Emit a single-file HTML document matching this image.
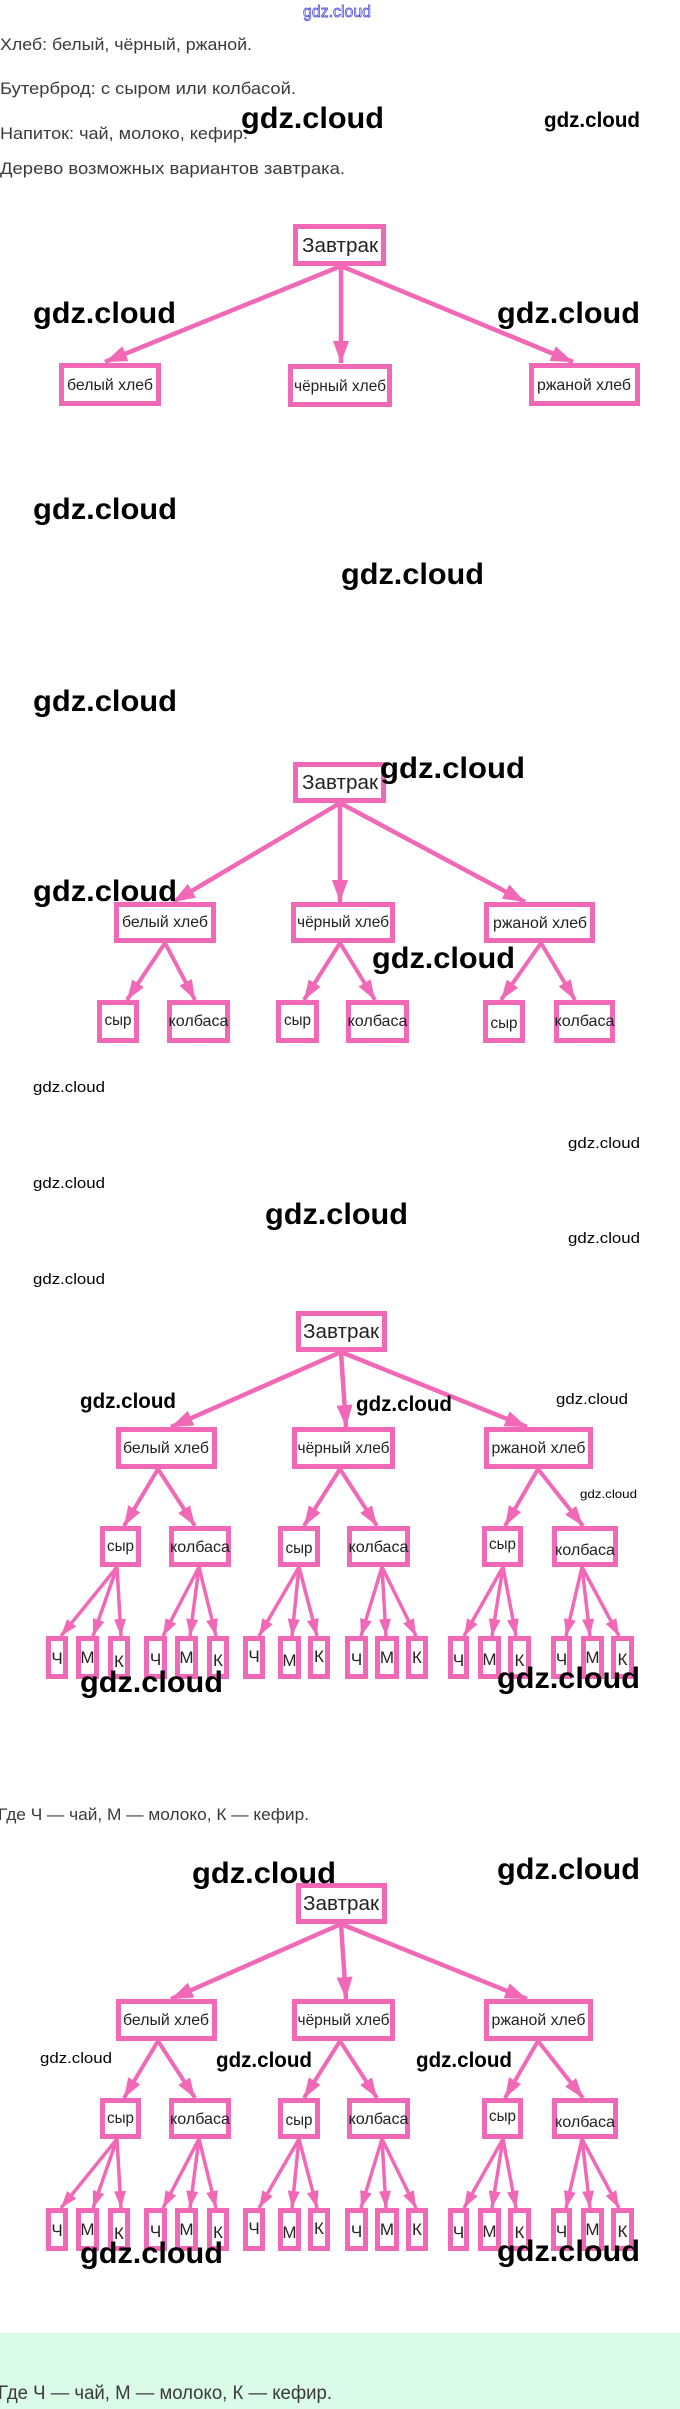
<!DOCTYPE html>
<html><head><meta charset="utf-8"><style>
html,body{margin:0;padding:0;background:#fff;width:680px;height:2409px;overflow:hidden}
svg{display:block}
text{font-family:"Liberation Sans",Arial,sans-serif}
.t{fill:#3a3a3a;font-size:17px}
.b{fill:#fff;stroke:#f068b6;stroke-width:5}
.lb{fill:#222;font-size:16px;text-anchor:middle}
.rt{fill:#222;font-size:20px;text-anchor:middle}
.lf{fill:#222;font-size:17px;text-anchor:middle}
.a1{stroke:#f068b6;stroke-width:4.5;fill:none;marker-end:url(#m1)}
.a2{stroke:#f068b6;stroke-width:4;fill:none;marker-end:url(#m2)}
.a3{stroke:#f068b6;stroke-width:3.5;fill:none;marker-end:url(#m3)}
.wb{fill:#000;font-size:30px;font-weight:bold}
.wm{fill:#000;font-size:21px;font-weight:bold}
.ws{fill:#000;font-size:15px}
.wt{fill:#000;font-size:12px}
</style></head><body>
<svg width="680" height="2409" viewBox="0 0 680 2409" xmlns="http://www.w3.org/2000/svg">
<defs>
<marker id="m1" markerUnits="userSpaceOnUse" markerWidth="24" markerHeight="18" refX="22" refY="8" orient="auto"><path d="M0,0 L22,8 L0,16 z" fill="#f068b6"/></marker>
<marker id="m2" markerUnits="userSpaceOnUse" markerWidth="22" markerHeight="16" refX="20" refY="7" orient="auto"><path d="M0,0 L20,7 L0,14 z" fill="#f068b6"/></marker>
<marker id="m3" markerUnits="userSpaceOnUse" markerWidth="19" markerHeight="14" refX="17" refY="6" orient="auto"><path d="M0,0 L17,6 L0,12 z" fill="#f068b6"/></marker>
</defs>
<rect x="0" y="0" width="680" height="2409" fill="#fff"/>
<rect x="0" y="2333" width="680" height="76" fill="#dafbe8"/>

<!-- top blue watermark -->
<text x="303" y="17" font-size="17" fill="#eef" stroke="#3a3ad0" stroke-width="0.7" textLength="68" lengthAdjust="spacingAndGlyphs">gdz.cloud</text>

<!-- intro text -->
<text class="t" x="0" y="50" textLength="252" lengthAdjust="spacingAndGlyphs">Хлеб: белый, чёрный, ржаной.</text>
<text class="t" x="0" y="94" textLength="296" lengthAdjust="spacingAndGlyphs">Бутерброд: с сыром или колбасой.</text>
<text class="t" x="0" y="139" textLength="248" lengthAdjust="spacingAndGlyphs">Напиток: чай, молоко, кефир.</text>
<text class="t" x="0" y="174" textLength="345" lengthAdjust="spacingAndGlyphs">Дерево возможных вариантов завтрака.</text>

<!-- TREE 1 -->
<line class="a1" x1="341" y1="266" x2="105" y2="362"/>
<line class="a1" x1="341" y1="266" x2="341" y2="363"/>
<line class="a1" x1="341" y1="266" x2="573" y2="362"/>
<rect class="b" x="295.5" y="226.5" width="88" height="37"/>
<text class="rt" x="340" y="252" textLength="76" lengthAdjust="spacingAndGlyphs">Завтрак</text>
<rect class="b" x="61.5" y="365.5" width="97" height="38"/>
<text class="lb" x="110" y="390" textLength="86" lengthAdjust="spacingAndGlyphs">белый хлеб</text>
<rect class="b" x="290.5" y="366.5" width="99" height="38"/>
<text class="lb" x="340" y="391" textLength="92" lengthAdjust="spacingAndGlyphs">чёрный хлеб</text>
<rect class="b" x="531.5" y="365.5" width="106" height="38"/>
<text class="lb" x="584" y="390" textLength="94" lengthAdjust="spacingAndGlyphs">ржаной хлеб</text>

<!-- TREE 2 -->
<line class="a1" x1="340" y1="803" x2="173" y2="902"/>
<line class="a1" x1="340" y1="803" x2="340" y2="902"/>
<line class="a1" x1="340" y1="803" x2="525" y2="902"/>
<line class="a2" x1="165" y1="943" x2="127" y2="1000"/>
<line class="a2" x1="165" y1="943" x2="195" y2="1000"/>
<line class="a2" x1="340" y1="943" x2="304" y2="1000"/>
<line class="a2" x1="340" y1="943" x2="375" y2="1000"/>
<line class="a2" x1="541" y1="943" x2="501" y2="1000"/>
<line class="a2" x1="541" y1="943" x2="575" y2="1000"/>
<rect class="b" x="295.5" y="764.5" width="88" height="36"/>
<text class="rt" x="340" y="789" textLength="76" lengthAdjust="spacingAndGlyphs">Завтрак</text>
<rect class="b" x="116.5" y="904.5" width="97" height="36"/>
<text class="lb" x="165" y="927" textLength="86" lengthAdjust="spacingAndGlyphs">белый хлеб</text>
<rect class="b" x="293.5" y="904.5" width="99" height="36"/>
<text class="lb" x="343" y="927" textLength="92" lengthAdjust="spacingAndGlyphs">чёрный хлеб</text>
<rect class="b" x="486.5" y="904.5" width="106" height="36"/>
<text class="lb" x="540" y="928" textLength="94" lengthAdjust="spacingAndGlyphs">ржаной хлеб</text>
<rect class="b" x="99.5" y="1002.5" width="37" height="38"/>
<text class="lb" x="118" y="1025" textLength="27" lengthAdjust="spacingAndGlyphs">сыр</text>
<rect class="b" x="169.5" y="1002.5" width="58" height="38"/>
<text class="lb" x="198.5" y="1026" textLength="60" lengthAdjust="spacingAndGlyphs">колбаса</text>
<rect class="b" x="278.5" y="1002.5" width="38" height="38"/>
<text class="lb" x="297.5" y="1025" textLength="27" lengthAdjust="spacingAndGlyphs">сыр</text>
<rect class="b" x="348.5" y="1002.5" width="58" height="38"/>
<text class="lb" x="377.5" y="1026" textLength="60" lengthAdjust="spacingAndGlyphs">колбаса</text>
<rect class="b" x="485.5" y="1002.5" width="37" height="38"/>
<text class="lb" x="504" y="1028" textLength="27" lengthAdjust="spacingAndGlyphs">сыр</text>
<rect class="b" x="556.5" y="1002.5" width="56" height="38"/>
<text class="lb" x="584.5" y="1026" textLength="60" lengthAdjust="spacingAndGlyphs">колбаса</text>

<!-- TREE 3 -->
<line class="a1" x1="341" y1="1352" x2="171" y2="1427"/>
<line class="a1" x1="341" y1="1352" x2="346" y2="1427"/>
<line class="a1" x1="341" y1="1352" x2="527" y2="1427"/>
<line class="a2" x1="158" y1="1469" x2="124" y2="1526"/>
<line class="a2" x1="158" y1="1469" x2="195" y2="1526"/>
<line class="a2" x1="340" y1="1469" x2="304" y2="1526"/>
<line class="a2" x1="340" y1="1469" x2="377" y2="1526"/>
<line class="a2" x1="538" y1="1469" x2="505" y2="1526"/>
<line class="a2" x1="538" y1="1469" x2="583" y2="1526"/>
<line class="a3" x1="117" y1="1567" x2="61" y2="1636"/>
<line class="a3" x1="117" y1="1567" x2="93" y2="1636"/>
<line class="a3" x1="117" y1="1567" x2="121" y2="1636"/>
<line class="a3" x1="199" y1="1567" x2="163" y2="1636"/>
<line class="a3" x1="199" y1="1567" x2="190" y2="1636"/>
<line class="a3" x1="199" y1="1567" x2="216" y2="1636"/>
<line class="a3" x1="299" y1="1567" x2="259" y2="1636"/>
<line class="a3" x1="299" y1="1567" x2="292" y2="1636"/>
<line class="a3" x1="299" y1="1567" x2="317" y2="1636"/>
<line class="a3" x1="382" y1="1567" x2="361" y2="1636"/>
<line class="a3" x1="382" y1="1567" x2="386" y2="1636"/>
<line class="a3" x1="382" y1="1567" x2="416" y2="1636"/>
<line class="a3" x1="503" y1="1567" x2="464" y2="1636"/>
<line class="a3" x1="503" y1="1567" x2="492" y2="1636"/>
<line class="a3" x1="503" y1="1567" x2="516" y2="1636"/>
<line class="a3" x1="582" y1="1567" x2="566" y2="1636"/>
<line class="a3" x1="582" y1="1567" x2="590" y2="1636"/>
<line class="a3" x1="582" y1="1567" x2="619" y2="1636"/>
<rect class="b" x="298.5" y="1313.5" width="86" height="36"/>
<text class="rt" x="341" y="1338" textLength="76" lengthAdjust="spacingAndGlyphs">Завтрак</text>
<rect class="b" x="118.5" y="1429.5" width="96" height="37"/>
<text class="lb" x="166" y="1453" textLength="86" lengthAdjust="spacingAndGlyphs">белый хлеб</text>
<rect class="b" x="294.5" y="1429.5" width="98" height="37"/>
<text class="lb" x="343.5" y="1453" textLength="92" lengthAdjust="spacingAndGlyphs">чёрный хлеб</text>
<rect class="b" x="486.5" y="1429.5" width="104" height="37"/>
<text class="lb" x="538.5" y="1453" textLength="94" lengthAdjust="spacingAndGlyphs">ржаной хлеб</text>
<rect class="b" x="102.5" y="1528.5" width="36" height="36"/>
<text class="lb" x="120.5" y="1551" textLength="27" lengthAdjust="spacingAndGlyphs">сыр</text>
<rect class="b" x="171.5" y="1528.5" width="57" height="36"/>
<text class="lb" x="200" y="1552" textLength="60" lengthAdjust="spacingAndGlyphs">колбаса</text>
<rect class="b" x="280.5" y="1528.5" width="37" height="36"/>
<text class="lb" x="299" y="1553" textLength="27" lengthAdjust="spacingAndGlyphs">сыр</text>
<rect class="b" x="349.5" y="1528.5" width="58" height="36"/>
<text class="lb" x="378.5" y="1552" textLength="60" lengthAdjust="spacingAndGlyphs">колбаса</text>
<rect class="b" x="484.5" y="1528.5" width="36" height="36"/>
<text class="lb" x="502.5" y="1549" textLength="27" lengthAdjust="spacingAndGlyphs">сыр</text>
<rect class="b" x="554.5" y="1528.5" width="61" height="36"/>
<text class="lb" x="585" y="1555" textLength="60" lengthAdjust="spacingAndGlyphs">колбаса</text>
<rect class="b" x="48.5" y="1638.5" width="17" height="38"/><text class="lf" x="57" y="1664">Ч</text>
<rect class="b" x="78.5" y="1638.5" width="18" height="38"/><text class="lf" x="87.5" y="1663">М</text>
<rect class="b" x="110.5" y="1638.5" width="17" height="38"/><text class="lf" x="119" y="1667">К</text>
<rect class="b" x="146.5" y="1638.5" width="18" height="38"/><text class="lf" x="155.5" y="1665">Ч</text>
<rect class="b" x="177.5" y="1638.5" width="18" height="38"/><text class="lf" x="186.5" y="1663">М</text>
<rect class="b" x="209.5" y="1638.5" width="17" height="38"/><text class="lf" x="218" y="1666">К</text>
<rect class="b" x="245.5" y="1638.5" width="17" height="38"/><text class="lf" x="254" y="1662">Ч</text>
<rect class="b" x="280.5" y="1638.5" width="18" height="38"/><text class="lf" x="289.5" y="1666">М</text>
<rect class="b" x="310.5" y="1638.5" width="17" height="38"/><text class="lf" x="319" y="1662">К</text>
<rect class="b" x="347.5" y="1638.5" width="18" height="38"/><text class="lf" x="356.5" y="1665">Ч</text>
<rect class="b" x="377.5" y="1638.5" width="19" height="38"/><text class="lf" x="387" y="1663">М</text>
<rect class="b" x="408.5" y="1638.5" width="17" height="38"/><text class="lf" x="417" y="1663">К</text>
<rect class="b" x="450.5" y="1638.5" width="16" height="38"/><text class="lf" x="458.5" y="1666">Ч</text>
<rect class="b" x="480.5" y="1638.5" width="18" height="38"/><text class="lf" x="489.5" y="1665">М</text>
<rect class="b" x="510.5" y="1638.5" width="18" height="38"/><text class="lf" x="519.5" y="1666">К</text>
<rect class="b" x="553.5" y="1638.5" width="16" height="38"/><text class="lf" x="561.5" y="1665">Ч</text>
<rect class="b" x="583.5" y="1638.5" width="18" height="38"/><text class="lf" x="592.5" y="1663">М</text>
<rect class="b" x="613.5" y="1638.5" width="18" height="38"/><text class="lf" x="622.5" y="1665">К</text>

<text class="t" x="-2" y="1820" textLength="311" lengthAdjust="spacingAndGlyphs">Где Ч — чай, М — молоко, К — кефир.</text>

<!-- TREE 4 -->
<line class="a1" x1="341" y1="1924" x2="171" y2="1999"/>
<line class="a1" x1="341" y1="1924" x2="346" y2="1999"/>
<line class="a1" x1="341" y1="1924" x2="527" y2="1999"/>
<line class="a2" x1="158" y1="2041" x2="124" y2="2098"/>
<line class="a2" x1="158" y1="2041" x2="195" y2="2098"/>
<line class="a2" x1="340" y1="2041" x2="304" y2="2098"/>
<line class="a2" x1="340" y1="2041" x2="377" y2="2098"/>
<line class="a2" x1="538" y1="2041" x2="505" y2="2098"/>
<line class="a2" x1="538" y1="2041" x2="583" y2="2098"/>
<line class="a3" x1="117" y1="2139" x2="61" y2="2208"/>
<line class="a3" x1="117" y1="2139" x2="93" y2="2208"/>
<line class="a3" x1="117" y1="2139" x2="121" y2="2208"/>
<line class="a3" x1="199" y1="2139" x2="163" y2="2208"/>
<line class="a3" x1="199" y1="2139" x2="190" y2="2208"/>
<line class="a3" x1="199" y1="2139" x2="216" y2="2208"/>
<line class="a3" x1="299" y1="2139" x2="259" y2="2208"/>
<line class="a3" x1="299" y1="2139" x2="292" y2="2208"/>
<line class="a3" x1="299" y1="2139" x2="317" y2="2208"/>
<line class="a3" x1="382" y1="2139" x2="361" y2="2208"/>
<line class="a3" x1="382" y1="2139" x2="386" y2="2208"/>
<line class="a3" x1="382" y1="2139" x2="416" y2="2208"/>
<line class="a3" x1="503" y1="2139" x2="464" y2="2208"/>
<line class="a3" x1="503" y1="2139" x2="492" y2="2208"/>
<line class="a3" x1="503" y1="2139" x2="516" y2="2208"/>
<line class="a3" x1="582" y1="2139" x2="566" y2="2208"/>
<line class="a3" x1="582" y1="2139" x2="590" y2="2208"/>
<line class="a3" x1="582" y1="2139" x2="619" y2="2208"/>
<rect class="b" x="298.5" y="1885.5" width="86" height="36"/>
<text class="rt" x="341" y="1910" textLength="76" lengthAdjust="spacingAndGlyphs">Завтрак</text>
<rect class="b" x="118.5" y="2001.5" width="96" height="37"/>
<text class="lb" x="166" y="2025" textLength="86" lengthAdjust="spacingAndGlyphs">белый хлеб</text>
<rect class="b" x="294.5" y="2001.5" width="98" height="37"/>
<text class="lb" x="343.5" y="2025" textLength="92" lengthAdjust="spacingAndGlyphs">чёрный хлеб</text>
<rect class="b" x="486.5" y="2001.5" width="104" height="37"/>
<text class="lb" x="538.5" y="2025" textLength="94" lengthAdjust="spacingAndGlyphs">ржаной хлеб</text>
<rect class="b" x="102.5" y="2100.5" width="36" height="36"/>
<text class="lb" x="120.5" y="2123" textLength="27" lengthAdjust="spacingAndGlyphs">сыр</text>
<rect class="b" x="171.5" y="2100.5" width="57" height="36"/>
<text class="lb" x="200" y="2124" textLength="60" lengthAdjust="spacingAndGlyphs">колбаса</text>
<rect class="b" x="280.5" y="2100.5" width="37" height="36"/>
<text class="lb" x="299" y="2125" textLength="27" lengthAdjust="spacingAndGlyphs">сыр</text>
<rect class="b" x="349.5" y="2100.5" width="58" height="36"/>
<text class="lb" x="378.5" y="2124" textLength="60" lengthAdjust="spacingAndGlyphs">колбаса</text>
<rect class="b" x="484.5" y="2100.5" width="36" height="36"/>
<text class="lb" x="502.5" y="2121" textLength="27" lengthAdjust="spacingAndGlyphs">сыр</text>
<rect class="b" x="554.5" y="2100.5" width="61" height="36"/>
<text class="lb" x="585" y="2127" textLength="60" lengthAdjust="spacingAndGlyphs">колбаса</text>
<rect class="b" x="48.5" y="2210.5" width="17" height="38"/><text class="lf" x="57" y="2236">Ч</text>
<rect class="b" x="78.5" y="2210.5" width="18" height="38"/><text class="lf" x="87.5" y="2235">М</text>
<rect class="b" x="110.5" y="2210.5" width="17" height="38"/><text class="lf" x="119" y="2239">К</text>
<rect class="b" x="146.5" y="2210.5" width="18" height="38"/><text class="lf" x="155.5" y="2237">Ч</text>
<rect class="b" x="177.5" y="2210.5" width="18" height="38"/><text class="lf" x="186.5" y="2235">М</text>
<rect class="b" x="209.5" y="2210.5" width="17" height="38"/><text class="lf" x="218" y="2238">К</text>
<rect class="b" x="245.5" y="2210.5" width="17" height="38"/><text class="lf" x="254" y="2234">Ч</text>
<rect class="b" x="280.5" y="2210.5" width="18" height="38"/><text class="lf" x="289.5" y="2238">М</text>
<rect class="b" x="310.5" y="2210.5" width="17" height="38"/><text class="lf" x="319" y="2234">К</text>
<rect class="b" x="347.5" y="2210.5" width="18" height="38"/><text class="lf" x="356.5" y="2237">Ч</text>
<rect class="b" x="377.5" y="2210.5" width="19" height="38"/><text class="lf" x="387" y="2235">М</text>
<rect class="b" x="408.5" y="2210.5" width="17" height="38"/><text class="lf" x="417" y="2235">К</text>
<rect class="b" x="450.5" y="2210.5" width="16" height="38"/><text class="lf" x="458.5" y="2238">Ч</text>
<rect class="b" x="480.5" y="2210.5" width="18" height="38"/><text class="lf" x="489.5" y="2237">М</text>
<rect class="b" x="510.5" y="2210.5" width="18" height="38"/><text class="lf" x="519.5" y="2238">К</text>
<rect class="b" x="553.5" y="2210.5" width="16" height="38"/><text class="lf" x="561.5" y="2237">Ч</text>
<rect class="b" x="583.5" y="2210.5" width="18" height="38"/><text class="lf" x="592.5" y="2235">М</text>
<rect class="b" x="613.5" y="2210.5" width="18" height="38"/><text class="lf" x="622.5" y="2237">К</text>

<text class="t" x="-2" y="2399" style="font-size:19px" textLength="334" lengthAdjust="spacingAndGlyphs">Где Ч — чай, М — молоко, К — кефир.</text>

<!-- WATERMARKS -->
<text class="wb" x="241" y="128" textLength="143" lengthAdjust="spacingAndGlyphs">gdz.cloud</text>
<text class="wm" x="544" y="127" textLength="96" lengthAdjust="spacingAndGlyphs">gdz.cloud</text>
<text class="wb" x="33" y="323" textLength="143" lengthAdjust="spacingAndGlyphs">gdz.cloud</text>
<text class="wb" x="497" y="323" textLength="143" lengthAdjust="spacingAndGlyphs">gdz.cloud</text>
<text class="wb" x="33" y="519" textLength="144" lengthAdjust="spacingAndGlyphs">gdz.cloud</text>
<text class="wb" x="341" y="584" textLength="143" lengthAdjust="spacingAndGlyphs">gdz.cloud</text>
<text class="wb" x="33" y="711" textLength="144" lengthAdjust="spacingAndGlyphs">gdz.cloud</text>
<text class="wb" x="380" y="778" textLength="145" lengthAdjust="spacingAndGlyphs">gdz.cloud</text>
<text class="wb" x="33" y="901" textLength="144" lengthAdjust="spacingAndGlyphs">gdz.cloud</text>
<text class="wb" x="372" y="968" textLength="143" lengthAdjust="spacingAndGlyphs">gdz.cloud</text>
<text class="ws" x="33" y="1092" textLength="72" lengthAdjust="spacingAndGlyphs">gdz.cloud</text>
<text class="ws" x="568" y="1148" textLength="72" lengthAdjust="spacingAndGlyphs">gdz.cloud</text>
<text class="ws" x="33" y="1188" textLength="72" lengthAdjust="spacingAndGlyphs">gdz.cloud</text>
<text class="wb" x="265" y="1224" textLength="143" lengthAdjust="spacingAndGlyphs">gdz.cloud</text>
<text class="ws" x="568" y="1243" textLength="72" lengthAdjust="spacingAndGlyphs">gdz.cloud</text>
<text class="ws" x="33" y="1284" textLength="72" lengthAdjust="spacingAndGlyphs">gdz.cloud</text>
<text class="wm" x="80" y="1408" textLength="96" lengthAdjust="spacingAndGlyphs">gdz.cloud</text>
<text class="wm" x="356" y="1411" textLength="96" lengthAdjust="spacingAndGlyphs">gdz.cloud</text>
<text class="ws" x="556" y="1404" textLength="72" lengthAdjust="spacingAndGlyphs">gdz.cloud</text>
<text class="wt" x="580" y="1498" textLength="57" lengthAdjust="spacingAndGlyphs">gdz.cloud</text>
<text class="wb" x="80" y="1692" textLength="143" lengthAdjust="spacingAndGlyphs">gdz.cloud</text>
<text class="wb" x="497" y="1688" textLength="143" lengthAdjust="spacingAndGlyphs">gdz.cloud</text>
<text class="wb" x="192" y="1883" textLength="144" lengthAdjust="spacingAndGlyphs">gdz.cloud</text>
<text class="wb" x="497" y="1879" textLength="143" lengthAdjust="spacingAndGlyphs">gdz.cloud</text>
<text class="ws" x="40" y="2063" textLength="72" lengthAdjust="spacingAndGlyphs">gdz.cloud</text>
<text class="wm" x="216" y="2067" textLength="96" lengthAdjust="spacingAndGlyphs">gdz.cloud</text>
<text class="wm" x="416" y="2067" textLength="96" lengthAdjust="spacingAndGlyphs">gdz.cloud</text>
<text class="wb" x="80" y="2263" textLength="143" lengthAdjust="spacingAndGlyphs">gdz.cloud</text>
<text class="wb" x="497" y="2261" textLength="143" lengthAdjust="spacingAndGlyphs">gdz.cloud</text>
</svg>
</body></html>
